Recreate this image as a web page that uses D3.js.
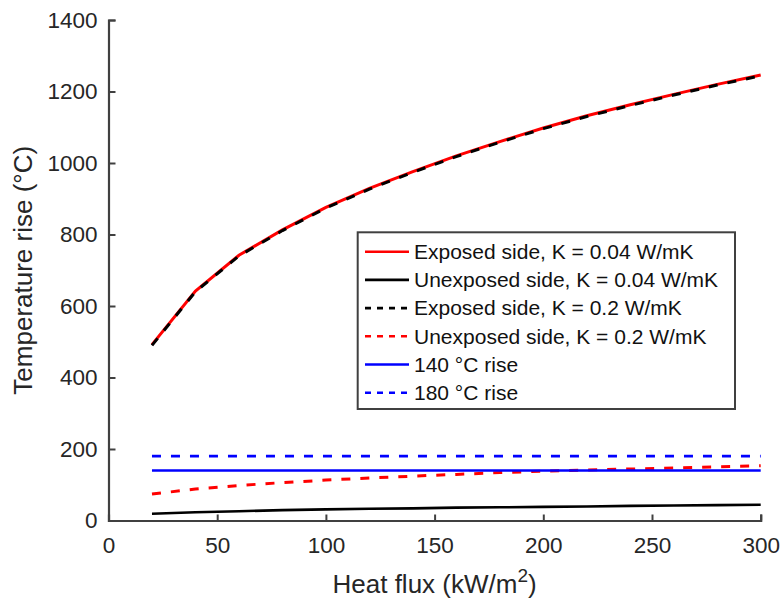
<!DOCTYPE html>
<html>
<head>
<meta charset="utf-8">
<script src="https://cdn.jsdelivr.net/npm/d3@7"></script>
<style>
  body { margin: 0; background: #fff; }
  text { font-family: "Liberation Sans", Arial, sans-serif; fill: #262626; }
</style>
</head>
<body>
<div id="chart"></div>
<script>
// data
var heatFlux = [20, 40, 60, 80, 100, 120, 140, 160, 180, 200, 220, 240, 260, 280, 300];
var exposed004 = [492, 642, 742, 813, 876, 929, 976, 1020, 1060, 1098, 1132, 1163, 1192, 1220, 1246];
var unexposed004 = [19, 23, 26, 29, 31, 33, 34, 36, 37, 38, 39, 41, 42, 43, 44];
var exposed02 = [490, 640, 740, 811, 874, 927, 974, 1018, 1058, 1096, 1130, 1161, 1190, 1218, 1244];
var unexposed02 = [74, 88, 98, 106, 113, 119, 124, 129, 134, 138, 141, 144, 147, 150, 153];
var limitX = [20, 300];
var rise140 = [140, 140];
var rise180 = [180, 180];
var xTicks = [0, 50, 100, 150, 200, 250, 300];
var yTicks = [0, 200, 400, 600, 800, 1000, 1200, 1400];
var legendLabels = [
  "Exposed side, K = 0.04 W/mK",
  "Unexposed side, K = 0.04 W/mK",
  "Exposed side, K = 0.2 W/mK",
  "Unexposed side, K = 0.2 W/mK",
  "140 °C rise",
  "180 °C rise"
];

var width = 781, height = 602;
var svg = d3.select('#chart')
  .append('svg')
  .attr('width', width)
  .attr('height', height);

var x = d3.scaleLinear().domain([0, 300]).range([108.5, 760.7]);
var y = d3.scaleLinear().domain([0, 1400]).range([520.5, 20]);

var series = [
  {xs: heatFlux, ys: exposed004, color: '#ff0000', dash: null, w: 3},
  {xs: heatFlux, ys: unexposed004, color: '#000000', dash: null, w: 2.6},
  {xs: heatFlux, ys: exposed02, color: '#000000', dash: '9,10', w: 3},
  {xs: heatFlux, ys: unexposed02, color: '#ff0000', dash: '9,10', w: 3},
  {xs: limitX, ys: rise140, color: '#0000ff', dash: null, w: 2.6},
  {xs: limitX, ys: rise180, color: '#0000ff', dash: '9,10', w: 2.6}
];

var line = d3.line()
  .x(function(d) { return x(d[0]); })
  .y(function(d) { return y(d[1]); });

svg.selectAll('path.series')
  .data(series)
  .enter().append('path')
  .attr('class', 'series')
  .attr('d', function(s) { return line(d3.zip(s.xs, s.ys)); })
  .attr('fill', 'none')
  .attr('stroke', function(s) { return s.color; })
  .attr('stroke-width', function(s) { return s.w; })
  .attr('stroke-dasharray', function(s) { return s.dash; });

// axes (ticks pointing inward, like matlab)
var xAxis = svg.append('g')
  .attr('transform', 'translate(0,' + y(0) + ')')
  .call(d3.axisBottom(x).tickValues(xTicks).tickFormat(d3.format('d')).tickSize(-6).tickPadding(17));
var yAxis = svg.append('g')
  .attr('transform', 'translate(' + x(0) + ',0)')
  .call(d3.axisLeft(y).tickValues(yTicks).tickFormat(d3.format('d')).tickSize(-7).tickPadding(11));

[xAxis, yAxis].forEach(function(g) {
  g.select('.domain').attr('stroke', '#404040').attr('stroke-width', 2.2);
  g.selectAll('.tick line').attr('stroke', '#404040').attr('stroke-width', 2);
  g.selectAll('.tick text').style('font-size', '22.5px').attr('fill', '#262626');
});

// axis labels
var xl = svg.append('text')
  .attr('x', (x(0) + x(300)) / 2)
  .attr('y', 593)
  .attr('text-anchor', 'middle')
  .style('font-size', '26px');
xl.append('tspan').text('Heat flux (kW/m');
xl.append('tspan').attr('dy', -11).style('font-size', '19px').text('2');
xl.append('tspan').attr('dy', 11).text(')');

svg.append('text')
  .attr('transform', 'translate(32,' + ((y(0) + y(1400)) / 2) + ') rotate(-90)')
  .attr('text-anchor', 'middle')
  .style('font-size', '26px')
  .text('Temperature rise (°C)');

// legend
var legend = svg.append('g');
legend.append('rect')
  .attr('x', 357.7).attr('y', 232.3)
  .attr('width', 377.3).attr('height', 176.7)
  .attr('fill', '#fff')
  .attr('stroke', '#404040')
  .attr('stroke-width', 2);

var rows = legend.selectAll('g.row')
  .data(series)
  .enter().append('g')
  .attr('class', 'row')
  .attr('transform', function(d, i) { return 'translate(0,' + (251.7 + i * 28.2) + ')'; });

rows.append('line')
  .attr('x1', 365).attr('x2', 409)
  .attr('stroke', function(s) { return s.color; })
  .attr('stroke-width', 2.6)
  .attr('stroke-dasharray', function(s) { return s.dash ? '6,6' : null; });

rows.append('text')
  .attr('x', 414)
  .attr('dy', '0.35em')
  .style('font-size', '21px')
  .style('fill', '#111')
  .text(function(d, i) { return legendLabels[i]; });
</script>
</body>
</html>
